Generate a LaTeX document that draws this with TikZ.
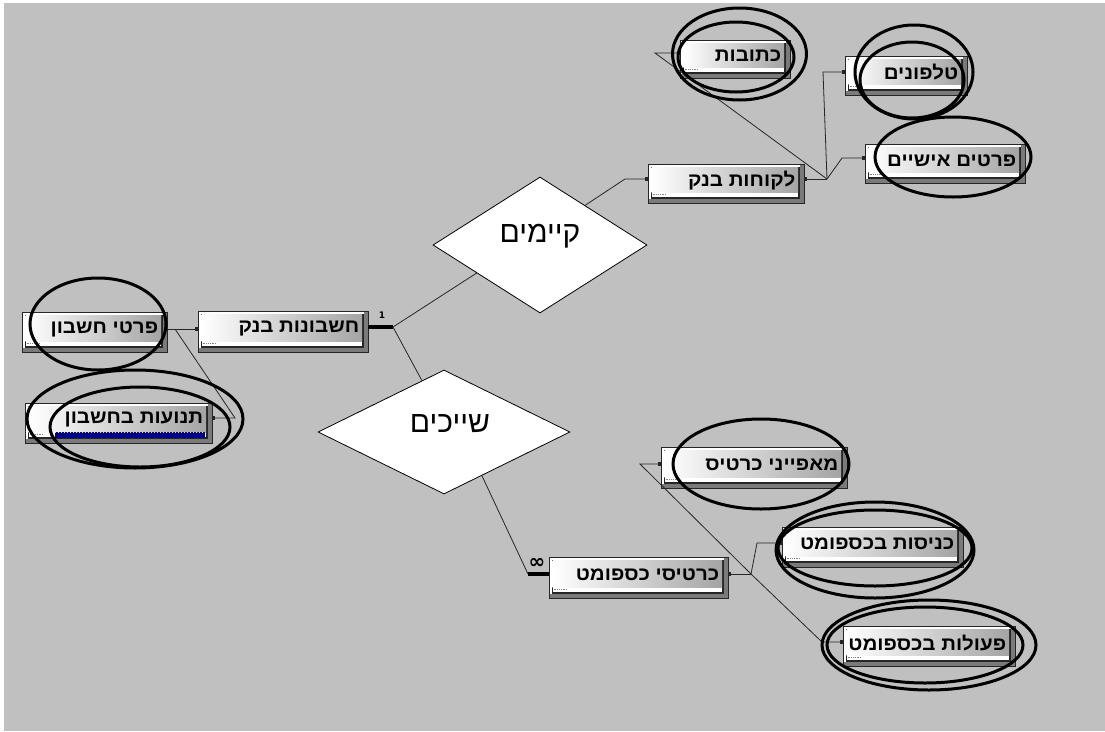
\documentclass[tikz,border=0pt]{standalone}
\usepackage{fontspec}
\usetikzlibrary{shapes.geometric,calc,arrows.meta}
\TeXXeTstate=1
\newfontfamily\hebb[Script=Hebrew,FakeStretch=1.08]{Liberation Sans}
\newfontfamily\hebr[Script=Hebrew]{Liberation Sans}
\newfontfamily\dejab{DejaVu Sans}
\definecolor{bg}{HTML}{C0C0C0}
\definecolor{boxdark}{HTML}{7A7A7A}
\definecolor{boxlight}{HTML}{A4A4A4}
\tikzset{
  tbox/.style={draw=black!85, line width=0.8pt, fill=boxdark, inner sep=0pt,
    path picture={
      \path (path picture bounding box.north west) coordinate (pnw)
            (path picture bounding box.south east) coordinate (pse)
            (path picture bounding box.south west) coordinate (psw);
      \fill[white] ($(pnw)+(1pt,-1pt)$) rectangle ($(pse)+(-4pt,4pt)$);
      \fill[black!85] ($(pnw)+(2.5pt,-2.5pt)$) rectangle ($(pse)+(-4pt,4pt)$);
      \shade[left color=white, right color=boxlight] ($(pnw)+(3.5pt,-3.5pt)$) rectangle ($(pse)+(-6pt,11pt)$);
      \fill[white] ($(psw)+(3.5pt,6pt)$) rectangle ($(pse)+(-6pt,10.5pt)$);
      \draw[gray, densely dotted, line width=0.8pt] ($(psw)+(4.5pt,8.2pt)$) -- ++(14pt,0);
    }},
  tlabel/.style={font=\fontsize{19}{19}\hebb\bfseries, inner sep=0pt, anchor=east},
  rel/.style={diamond, draw=black, fill=white, line width=0.8pt, inner sep=0pt},
  rlabel/.style={font=\fontsize{30}{30}\hebr, inner sep=0pt},
  conn/.style={draw=black!85, line width=0.8pt},
  thickc/.style={draw=black, line width=3.5pt},
  tip/.style={-{Square[length=2.5pt,width=3.5pt]}},
  tipr/.style={{Square[length=2.5pt,width=3.5pt]}-},
  ring/.style={draw=black, line width=3pt},
}
\newcommand\tbl[6]{%
  \node[tbox, minimum width={(#4-#2)*1pt}, minimum height={(#5-#3)*1pt}] (#1) at ({(#2+#4)/2},{(#3+#5)/2}) {};
  \node[tlabel] (#1-t) at ([xshift=-9pt,yshift=3pt]#1.east) {#6};
}
\begin{document}
\begin{tikzpicture}[x=1pt,y=-1pt]
\useasboundingbox (0,0) rectangle (1105,731);
\fill[white] (0,0) rectangle (1105,731);
\fill[bg] (4,3) rectangle (1105,731);

% junction / bend points
\coordinate (jL) at (827,179);
\coordinate (jA) at (393,327);
\coordinate (jK) at (751,574);
\coordinate (jP) at (175,329);
\coordinate (bKtv) at (655,53);
\coordinate (bTel) at (823,72);
\coordinate (bPer) at (842,158);
\coordinate (bLak) at (625,179);
\coordinate (bKar) at (528,574);
\coordinate (bMap) at (640,464);
\coordinate (bKni) at (757,543);
\coordinate (bPea) at (822,642);
\coordinate (bTnu) at (235,418);

% tables
\tbl{ktv}{680}{40}{790}{78}{\beginR כתובות\endR}
\tbl{tel}{845}{56}{967}{95}{\beginR טלפונים\endR}
\tbl{per}{865}{144}{1025}{183}{\beginR פרטים אישיים\endR}
\tbl{lak}{648}{164}{804}{203}{\beginR לקוחות בנק\endR}
\tbl{prt}{22}{312}{167}{352}{\beginR פרטי חשבון\endR}
\tbl{hes}{198}{311}{368}{352}{\beginR חשבונות בנק\endR}
\tbl{tnu}{25}{403}{212}{443}{\beginR תנועות בחשבון\endR}
\tbl{map}{661}{447}{847}{488}{\beginR מאפייני כרטיס\endR}
\tbl{kni}{782}{527}{963}{567}{\beginR כניסות בכספומט\endR}
\tbl{kar}{549}{557}{728}{598}{\beginR כרטיסי כספומט\endR}
\tbl{pea}{843}{626}{1015}{666}{\beginR פעולות בכספומט\endR}

% selected strip
\fill[blue!55!black] (55,432) rectangle (205,438);
\draw[yellow, dotted, line width=1pt] (55,432.5) -- (205,432.5);

% relationships
\node[rel, minimum width=214pt, minimum height=136pt] (kay) at (540,245) {};
\node[rlabel] (kay-t) at (540,236) {\beginR קיימים\endR};
\node[rel, minimum width=252pt, minimum height=124pt] (shi) at (444,432) {};
\node[rlabel] (shi-t) at (450,424) {\beginR שייכים\endR};

% connectors
\draw[conn,tip] ($(kay.north)!0.42!(kay.east)$) -- (bLak) -- (lak.west|-bLak);
\draw[conn,tipr] (lak.east|-jL) -- (jL);
\draw[conn,tip] (jL) -- (bTel) -- (tel.west|-bTel);
\draw[conn,tip] (jL) -- (bPer) -- (per.west|-bPer);
\draw[conn,tip] (jL) -- (bKtv) -- (ktv.west|-bKtv);
\draw[conn] ($(kay.west)!0.41!(kay.south)$) -- (jA);
\draw[thickc] (jA) -- (hes.east|-jA);
\draw[conn] (jA) -- ($(shi.west)!0.825!(shi.north)$);
\draw[conn] ($(shi.south)!0.3!(shi.east)$) -- (bKar);
\draw[thickc] (bKar) -- (kar.west|-bKar);
\draw[conn,tipr] (kar.east|-jK) -- (jK);
\draw[conn,tip] (jK) -- (bKni) -- (kni.west|-bKni);
\draw[conn,tip] (jK) -- (bMap) -- (map.west|-bMap);
\draw[conn,tip] (jK) -- (bPea) -- (pea.west|-bPea);
\draw[conn,tipr,tip] (prt.east|-jP) -- (hes.west|-jP);
\draw[conn,tip] (jP) -- (bTnu) -- (tnu.east|-bTnu);

% cardinality labels
\node[font=\fontsize{9}{9}\dejab\bfseries, inner sep=0pt] (one) at (382,315) {1};
\node[font=\fontsize{20}{20}\dejab\bfseries, inner sep=0pt] (inf) at (537,563) {∞};

% highlight rings
\draw[ring] (739.5,54) ellipse [x radius=67, y radius=46];
\draw[ring] (736,57) ellipse [x radius=58, y radius=35];
\draw[ring] (914,72) ellipse [x radius=59, y radius=47];
\draw[ring] (912,80) ellipse [x radius=52, y radius=38];
\draw[ring] (953,157) ellipse [x radius=78, y radius=40];
\draw[ring] (761,464) ellipse [x radius=88, y radius=45];
\draw[ring] (875,550) ellipse [x radius=99, y radius=48];
\draw[ring] (875,548) ellipse [x radius=97, y radius=38];
\draw[ring] (929,645) ellipse [x radius=107, y radius=45];
\draw[ring] (925,645) ellipse [x radius=98, y radius=38];
\draw[ring] (98,324) ellipse [x radius=68, y radius=46];
\draw[ring] (135,419) ellipse [x radius=108, y radius=49];
\draw[ring] (140,427) ellipse [x radius=90, y radius=40];
\end{tikzpicture}
\end{document}
